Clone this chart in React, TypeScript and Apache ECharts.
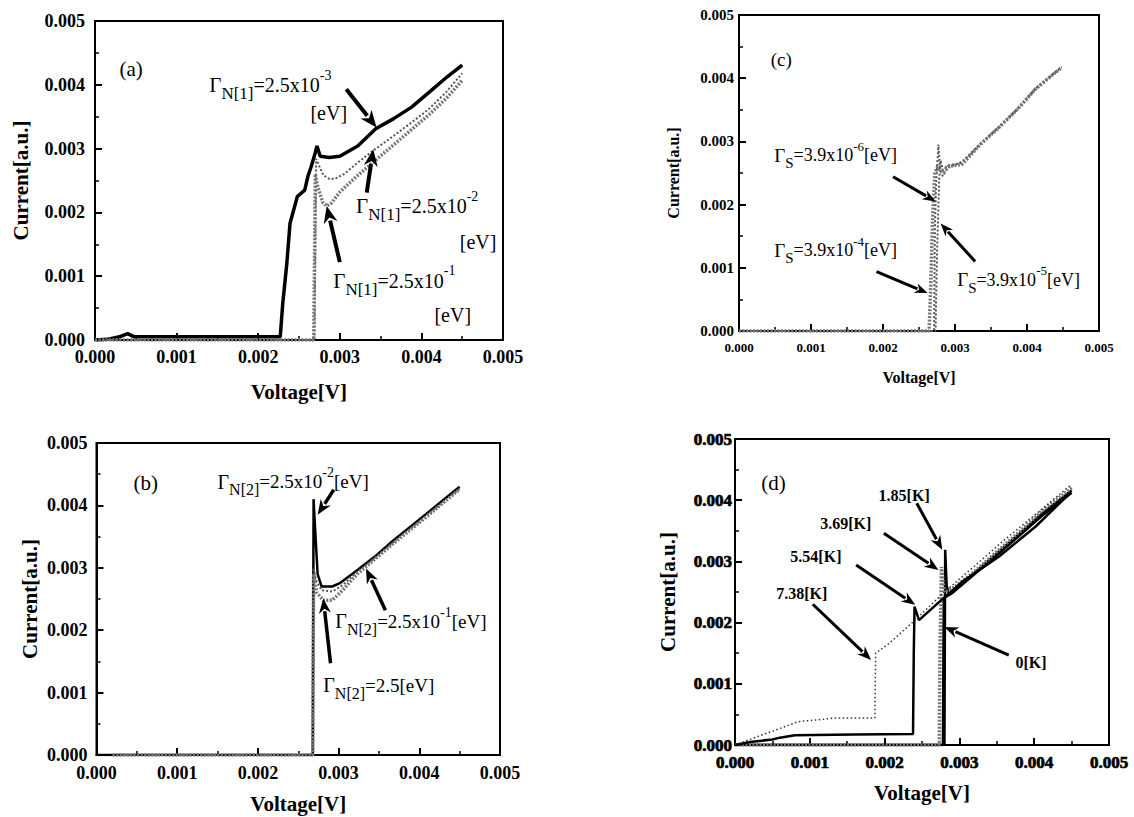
import React, { useEffect, useRef } from "react";
import * as echarts from "echarts";

const FONT = "'Liberation Serif', 'Times New Roman', serif";

// ---------- data (Voltage [V], Current [a.u.]) ----------
// Panel (a)
const A_G1: [number, number][] = [
  [0, 0], [0.00015, 0.00001], [0.0003, 0.00005], [0.0004, 0.0001], [0.00048, 0.00005],
  [0.001, 0.00005], [0.0015, 0.00005], [0.00227, 0.00005], [0.0023, 0.00056], [0.00235, 0.00119],
  [0.00239, 0.00183], [0.00248, 0.00225], [0.00257, 0.00235], [0.00261, 0.00257], [0.00265, 0.00272],
  [0.0027, 0.00294], [0.00272, 0.00304], [0.00276, 0.00288], [0.00287, 0.00286], [0.003, 0.00288],
  [0.00322, 0.00304], [0.00344, 0.00331], [0.00366, 0.00347], [0.00388, 0.00365], [0.0041, 0.00389],
  [0.00432, 0.00413], [0.0045, 0.00431],
];
const A_G2: [number, number][] = [
  [0, 0], [0.0005, 0], [0.001, 0], [0.0015, 0], [0.002, 0], [0.00269, 0], [0.0027, 0.0015],
  [0.00271, 0.00284], [0.00275, 0.00272], [0.0028, 0.00258], [0.00288, 0.00252], [0.00296, 0.00254],
  [0.00305, 0.0026], [0.00322, 0.00278], [0.00341, 0.00297], [0.00366, 0.0032], [0.0039, 0.00343],
  [0.0041, 0.00363], [0.0043, 0.00388], [0.0045, 0.00418],
];
const A_G3: [number, number][] = [
  [0, 0], [0.00268, 0], [0.00269, 0.0012], [0.0027, 0.0026], [0.00273, 0.0024], [0.00279, 0.00216],
  [0.00284, 0.0021], [0.0029, 0.00215], [0.003, 0.00232], [0.00322, 0.00258], [0.00344, 0.00282],
  [0.00366, 0.00306], [0.0039, 0.00332], [0.0041, 0.00354], [0.0043, 0.00378], [0.0045, 0.00407],
];
// Panel (b)
const B_G1: [number, number][] = [
  [0, 0], [0.0005, 0], [0.001, 0], [0.002, 0], [0.00268, 0], [0.00269, 0.0041], [0.00271, 0.0036],
  [0.00274, 0.0029], [0.00279, 0.0027], [0.00292, 0.0027], [0.00301, 0.00275], [0.00323, 0.00296],
  [0.00345, 0.00318], [0.00367, 0.00343], [0.00389, 0.00366], [0.00412, 0.0039], [0.0045, 0.0043],
];
const B_G2: [number, number][] = [
  [0.0002, 0], [0.00268, 0], [0.00269, 0.003], [0.00272, 0.0028], [0.00279, 0.00264], [0.00292, 0.00262],
  [0.00305, 0.00272], [0.00323, 0.00293], [0.00345, 0.00316], [0.00367, 0.0034], [0.00389, 0.00363],
  [0.00412, 0.00387], [0.0045, 0.00427],
];
const B_G3: [number, number][] = [
  [0.0002, 0], [0.00268, 0], [0.00269, 0.0029], [0.00273, 0.0026], [0.00281, 0.00248], [0.00292, 0.00248],
  [0.00305, 0.00264], [0.00323, 0.0029], [0.00345, 0.00314], [0.00367, 0.00338], [0.00389, 0.00361],
  [0.00412, 0.00385], [0.0045, 0.00426],
];
// Panel (c)
const C_S6: [number, number][] = [
  [0, 0], [0.0026, 0], [0.00271, 0], [0.00272, 0.0016], [0.00274, 0.0024], [0.00277, 0.00295],
  [0.00279, 0.0026], [0.00283, 0.00245], [0.0029, 0.00258], [0.0031, 0.00268], [0.00336, 0.00297],
  [0.00361, 0.00323], [0.00387, 0.00352], [0.00412, 0.00384], [0.00448, 0.00418],
];
const C_S5: [number, number][] = [
  [0, 0], [0.00273, 0], [0.00275, 0.0012], [0.00278, 0.0024], [0.0028, 0.0027], [0.00283, 0.00255],
  [0.0029, 0.00262], [0.0031, 0.00266], [0.00336, 0.00297], [0.00361, 0.00322], [0.00387, 0.00351],
  [0.00412, 0.00383], [0.00448, 0.00417],
];
const C_S4: [number, number][] = [
  [0, 0], [0.00264, 0], [0.00266, 0.0006], [0.00269, 0.0018], [0.00272, 0.0025], [0.00276, 0.0026],
  [0.00283, 0.0025], [0.0029, 0.0026], [0.0031, 0.00264], [0.00336, 0.00296], [0.00361, 0.00322],
  [0.00387, 0.00351], [0.00412, 0.00383], [0.00448, 0.00417],
];
// Panel (d)
const D_T0: [number, number][] = [
  [0, 0], [0.001, 0], [0.002, 0], [0.00278, 0], [0.00279, 0.0024], [0.0029, 0.00248], [0.0032, 0.00279],
  [0.0035, 0.0031], [0.0038, 0.00342], [0.0041, 0.00374], [0.0045, 0.00412],
];
const D_T185: [number, number][] = [
  [0, 0], [0.0028, 0], [0.00281, 0.00319], [0.00283, 0.0026], [0.00286, 0.00245], [0.0032, 0.00281],
  [0.0035, 0.00313], [0.0038, 0.00345], [0.0041, 0.00378], [0.0045, 0.00416],
];
const D_T369: [number, number][] = [
  [0, 0], [0.00273, 0], [0.00274, 0.0015], [0.00276, 0.00291], [0.00278, 0.0027], [0.0028, 0.0025],
  [0.0029, 0.00255], [0.0032, 0.00283], [0.0035, 0.00316], [0.0038, 0.00348], [0.0041, 0.00382],
  [0.0045, 0.0042],
];
const D_T554: [number, number][] = [
  [0, 0], [0.0002, 0.00005], [0.0005, 0.00009], [0.0006, 0.00012], [0.0008, 0.00016], [0.0016, 0.00017],
  [0.00238, 0.00018], [0.00239, 0.0015], [0.0024, 0.00226], [0.00246, 0.00204], [0.00275, 0.00236],
  [0.00304, 0.00267], [0.00353, 0.00308], [0.00402, 0.00357], [0.00449, 0.00413],
];
const D_T738: [number, number][] = [
  [0, 0], [0.00035, 0.00016], [0.0006, 0.00027], [0.00084, 0.00038], [0.00109, 0.00041],
  [0.00133, 0.00044], [0.00187, 0.00044], [0.00188, 0.0015], [0.00206, 0.00166], [0.00238, 0.00201],
  [0.0028, 0.0025], [0.0032, 0.00292], [0.0036, 0.00335], [0.004, 0.00375], [0.0045, 0.00426],
];

const AXIS_MIN = 0;
const AXIS_MAX = 0.005;
const AXIS_STEP = 0.001;
const X_TITLE = "Voltage[V]";
const Y_TITLE = "Current[a.u.]";
const PANEL_LETTERS = ["(a)", "(c)", "(b)", "(d)"];

// annotation texts and arrows (data coordinates)
const A_NOTES = [
  { t: ["N[1]", "=2.5x10", "-3", ""], x: 0.0014, y: 0.00399 },
  { t: ["N[1]", "=2.5x10", "-2", ""], x: 0.0032, y: 0.0021 },
  { t: ["N[1]", "=2.5x10", "-1", ""], x: 0.00292, y: 0.00093 },
];
const A_PLAIN = [
  { s: "[eV]", x: 0.00264, y: 0.00356 },
  { s: "[eV]", x: 0.00447, y: 0.00153 },
  { s: "[eV]", x: 0.00416, y: 0.00039 },
];
const A_ARROWS = [
  [0.00308, 0.00393, 0.00345, 0.00333],
  [0.00333, 0.00231, 0.00341, 0.00299],
  [0.003, 0.00122, 0.00284, 0.0021],
];
const B_NOTES = [
  { t: ["N[2]", "=2.5x10", "-2", "[eV]"], x: 0.0015, y: 0.00438 },
  { t: ["N[2]", "=2.5x10", "-1", "[eV]"], x: 0.00296, y: 0.00214 },
  { t: ["N[2]", "=2.5[eV]", "", ""], x: 0.00281, y: 0.00112 },
];
const B_ARROWS = [
  [0.00294, 0.00425, 0.00274, 0.00385],
  [0.00358, 0.00232, 0.00334, 0.00299],
  [0.0029, 0.00147, 0.00281, 0.00251],
];
const C_NOTES = [
  { t: ["S", "=3.9x10", "-6", "[eV]"], x: 0.00049, y: 0.00278 },
  { t: ["S", "=3.9x10", "-4", "[eV]"], x: 0.00049, y: 0.00128 },
  { t: ["S", "=3.9x10", "-5", "[eV]"], x: 0.00303, y: 0.00081 },
];
const C_ARROWS = [
  [0.00214, 0.00244, 0.00273, 0.00205],
  [0.00191, 0.00094, 0.00262, 0.0006],
  [0.00328, 0.0011, 0.0028, 0.0017],
];
const D_PLAIN = [
  { s: "1.85[K]", x: 0.00192, y: 0.00408 },
  { s: "3.69[K]", x: 0.00114, y: 0.00362 },
  { s: "5.54[K]", x: 0.00074, y: 0.00308 },
  { s: "7.38[K]", x: 0.00055, y: 0.00248 },
  { s: "0[K]", x: 0.00375, y: 0.00134 },
];
const D_ARROWS = [
  [0.00243, 0.00395, 0.00277, 0.00319],
  [0.00199, 0.00346, 0.00272, 0.00286],
  [0.00162, 0.00294, 0.00241, 0.00229],
  [0.00104, 0.0023, 0.00182, 0.00139],
  [0.00366, 0.00147, 0.0028, 0.00193],
];
const LETTER_POS = [
  [0.0003, 0.00424],
  [0.00044, 0.00429],
  [0.00046, 0.00436],
  [0.00035, 0.00428],
];

// ---------- layout ----------
const GRIDS = [
  { left: 95, top: 21, width: 408, height: 319 },
  { left: 739, top: 15, width: 360, height: 316 },
  { left: 96.5, top: 443, width: 403.5, height: 312 },
  { left: 735, top: 439, width: 374, height: 306 },
];
const AXIS_STYLE = [
  { xFont: 18, yFont: 18, title: 21, xMargin: 8, yMargin: 10, xGap: 41, yGap: 64, heavy: 0 },
  { xFont: 13, yFont: 15, title: 16, xMargin: 10, yMargin: 5, xGap: 38, yGap: 58, heavy: 0 },
  { xFont: 18, yFont: 18, title: 21, xMargin: 9, yMargin: 9, xGap: 38, yGap: 56, heavy: 0 },
  { xFont: 17, yFont: 17, title: 21, xMargin: 9, yMargin: 3, xGap: 37, yGap: 57, heavy: 0.7 },
];

const fmt = (v: number) => v.toFixed(3);

function labelStyle(i: number, size: number, margin: number) {
  const s = AXIS_STYLE[i];
  const l: any = {
    formatter: fmt, fontFamily: FONT, fontWeight: "bold", fontSize: size, color: "#000",
    margin, showMinLabel: true, showMaxLabel: true,
  };
  if (s.heavy) {
    l.textBorderColor = "#000";
    l.textBorderWidth = s.heavy;
  }
  return l;
}

function makeX(i: number) {
  const s = AXIS_STYLE[i];
  return {
    type: "value", gridIndex: i, min: AXIS_MIN, max: AXIS_MAX, interval: AXIS_STEP,
    name: X_TITLE, nameLocation: "middle", nameGap: s.xGap,
    nameTextStyle: { fontFamily: FONT, fontWeight: "bold", fontSize: s.title, color: "#000" },
    axisLine: { show: true, lineStyle: { color: "#000", width: 2 } },
    axisTick: { show: true, inside: true, length: 7, lineStyle: { color: "#000", width: 2 } },
    minorTick: { show: true, splitNumber: 2, length: 4, lineStyle: { color: "#000", width: 1.5 } },
    splitLine: { show: false },
    axisLabel: labelStyle(i, s.xFont, s.xMargin),
  };
}
function makeY(i: number) {
  const s = AXIS_STYLE[i];
  return {
    type: "value", gridIndex: i, min: AXIS_MIN, max: AXIS_MAX, interval: AXIS_STEP,
    name: Y_TITLE, nameLocation: "middle", nameGap: s.yGap, nameRotate: 90,
    nameTextStyle: { fontFamily: FONT, fontWeight: "bold", fontSize: s.title, color: "#000" },
    axisLine: { show: true, lineStyle: { color: "#000", width: 2 } },
    axisTick: { show: true, inside: true, length: 7, lineStyle: { color: "#000", width: 2 } },
    minorTick: { show: true, splitNumber: 2, length: 4, lineStyle: { color: "#000", width: 1.5 } },
    splitLine: { show: false },
    axisLabel: labelStyle(i, s.yFont, s.yMargin),
  };
}

const SOLID_THICK = { color: "#000", width: 3.5, type: "solid" };
const SOLID = { color: "#000", width: 2.5, type: "solid" };
const DOTTED = { color: "#555", width: 2, type: "dotted" };
const HATCH = { color: "#777", width: 3.5, type: [2, 1.5] };
const THIN_DOT = { color: "#333", width: 1.5, type: [1.5, 2.5] };

function line(name: string, i: number, data: [number, number][], ls: any) {
  return {
    type: "line", name, xAxisIndex: i, yAxisIndex: i, data, showSymbol: false, symbol: "none",
    lineStyle: ls, silent: true, z: 2,
  };
}

function richGamma(parts: string[], size: number, bold = false) {
  const [sub, mid, sup, tail] = parts;
  let t = `{g|Γ}{s|${sub}}{m|${mid}}`;
  if (sup) t += `{p|${sup}}`;
  if (tail) t += `{m|${tail}}`;
  const w = bold ? "bold" : "normal";
  const lh = Math.round(size * 1.7);
  return {
    text: t,
    rich: {
      g: { fontSize: size + 1, lineHeight: lh, fontFamily: FONT, fontWeight: w, fill: "#000" },
      m: { fontSize: size, lineHeight: lh, fontFamily: FONT, fontWeight: w, fill: "#000" },
      s: { fontSize: Math.round(size * 0.85), lineHeight: Math.round(size * 0.85), verticalAlign: "bottom", fontFamily: FONT, fontWeight: w, fill: "#000" },
      p: { fontSize: Math.round(size * 0.72), lineHeight: Math.round(size * 0.72), verticalAlign: "top", fontFamily: FONT, fontWeight: w, fill: "#000" },
    },
  };
}

export default function App() {
  const ref = useRef<HTMLDivElement>(null);
  useEffect(() => {
    const chart = echarts.init(ref.current!, null, { renderer: "svg" });
    const option: any = {
      animation: false,
      backgroundColor: "#fff",
      grid: GRIDS.map((g) => ({ ...g, show: true, borderColor: "#000", borderWidth: 2, backgroundColor: "transparent" })),
      xAxis: [0, 1, 2, 3].map(makeX),
      yAxis: [0, 1, 2, 3].map(makeY),
      series: [
        line("ΓN[1]=2.5x10-3", 0, A_G1, SOLID_THICK),
        line("ΓN[1]=2.5x10-2", 0, A_G2, DOTTED),
        line("ΓN[1]=2.5x10-1", 0, A_G3, HATCH),
        line("ΓS=3.9x10-6", 1, C_S6, DOTTED),
        line("ΓS=3.9x10-5", 1, C_S5, DOTTED),
        line("ΓS=3.9x10-4", 1, C_S4, HATCH),
        line("ΓN[2]=2.5x10-2", 2, B_G1, SOLID),
        line("ΓN[2]=2.5x10-1", 2, B_G2, DOTTED),
        line("ΓN[2]=2.5", 2, B_G3, HATCH),
        line("0[K]", 3, D_T0, SOLID),
        line("1.85[K]", 3, D_T185, SOLID),
        line("3.69[K]", 3, D_T369, HATCH),
        line("5.54[K]", 3, D_T554, SOLID),
        line("7.38[K]", 3, D_T738, THIN_DOT),
      ],
    };
    chart.setOption(option);

    const px = (i: number, x: number, y: number) =>
      chart.convertToPixel({ gridIndex: i } as any, [x, y]) as number[];
    const graphic: any[] = [];

    const addArrow = (i: number, a: number[], w: number, hl: number, hw: number) => {
      const [x1, y1] = px(i, a[0], a[1]);
      const [x2, y2] = px(i, a[2], a[3]);
      const dx = x2 - x1, dy = y2 - y1;
      const len = Math.sqrt(dx * dx + dy * dy) || 1;
      const ux = dx / len, uy = dy / len;
      const bx = x2 - ux * hl, by = y2 - uy * hl;
      graphic.push({
        type: "line", silent: true, z: 10,
        shape: { x1, y1, x2: bx + ux * 2, y2: by + uy * 2 },
        style: { stroke: "#000", lineWidth: w },
      });
      graphic.push({
        type: "polygon", silent: true, z: 10,
        shape: { points: [[x2, y2], [bx - uy * hw, by + ux * hw], [x2 - ux * hl * 0.7, y2 - uy * hl * 0.7], [bx + uy * hw, by - ux * hw]] },
        style: { fill: "#000" },
      });
    };
    const addRich = (i: number, n: any, size: number) => {
      const [x, y] = px(i, n.x, n.y);
      graphic.push({
        type: "text", silent: true, z: 11, x, y,
        style: { ...richGamma(n.t, size), align: "left", verticalAlign: "middle", textAlign: "left", textVerticalAlign: "middle" },
      });
    };
    const addPlain = (i: number, n: any, size: number, bold: boolean) => {
      const [x, y] = px(i, n.x, n.y);
      graphic.push({
        type: "text", silent: true, z: 11, x, y,
        style: {
          text: n.s, fontFamily: FONT, fontSize: size, fontWeight: bold ? "bold" : "normal", fill: "#000",
          align: "left", verticalAlign: "middle", textAlign: "left", textVerticalAlign: "middle",
        },
      });
    };

    LETTER_POS.forEach((p, i) => addPlain(i, { s: PANEL_LETTERS[i], x: p[0], y: p[1] }, i === 1 ? 19 : 21, false));
    A_NOTES.forEach((n) => addRich(0, n, 20));
    A_PLAIN.forEach((n) => addPlain(0, n, 20, false));
    A_ARROWS.forEach((a) => addArrow(0, a, 4, 17, 7));
    C_NOTES.forEach((n) => addRich(1, n, 18));
    C_ARROWS.forEach((a) => addArrow(1, a, 3, 13, 5));
    B_NOTES.forEach((n) => addRich(2, n, 19));
    B_ARROWS.forEach((a) => addArrow(2, a, 3.5, 15, 6));
    D_PLAIN.forEach((n) => addPlain(3, n, 16, true));
    D_ARROWS.forEach((a) => addArrow(3, a, 3, 14, 5.5));

    chart.setOption({ graphic });
    return () => chart.dispose();
  }, []);
  return (
    <div
      ref={ref}
      style={{ position: "fixed", left: 0, top: 0, width: 1134, height: 817, background: "#fff" }}
    />
  );
}
